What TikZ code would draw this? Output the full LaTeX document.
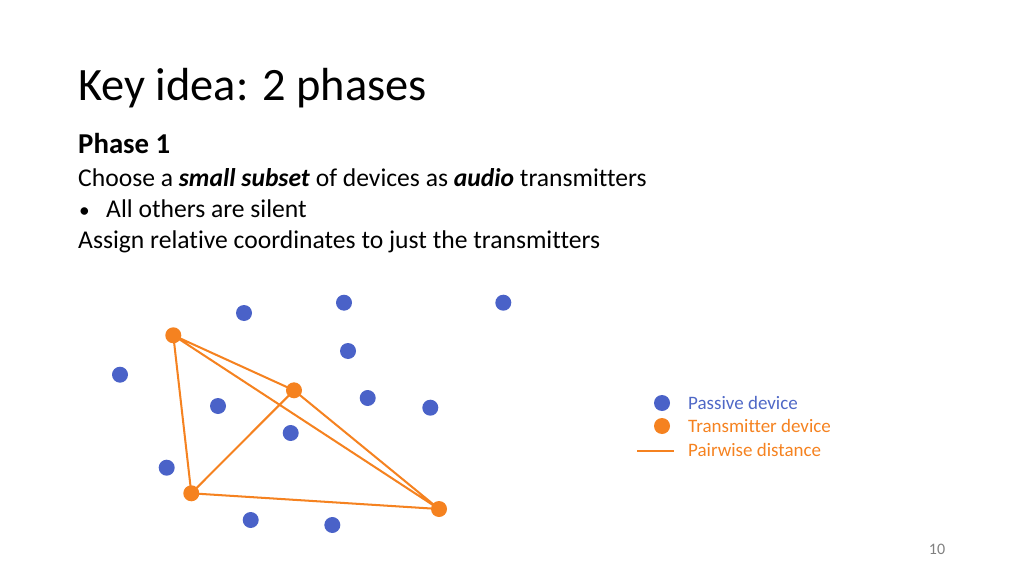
\documentclass[tikz,border=0pt]{standalone}
\usepackage{fontspec}
\setmainfont[Ligatures={NoCommon}]{Carlito}
\definecolor{pblue}{HTML}{4A62C8}
\definecolor{porange}{HTML}{F58220}
\definecolor{ltblue}{HTML}{4F68C6}
\begin{document}
\begin{tikzpicture}[x=0.9375pt,y=-0.9375pt,
  passive/.style={circle,fill=pblue,inner sep=0pt,minimum size=15pt},
  trans/.style={circle,fill=porange,inner sep=0pt,minimum size=15pt},
  dist/.style={draw=porange,line width=1.9pt},
  txt/.style={anchor=base west,inner sep=0pt,font=\fontsize{24}{28}\selectfont},
  leg/.style={anchor=west,inner sep=0pt,font=\fontsize{17.8}{21}\selectfont}]
\useasboundingbox (0,0) rectangle (1024,576);
\node[txt,font=\fontsize{43.5}{50}\selectfont] (title) at (78,101) {Key idea: 2 phases};
\node[txt,font=\fontsize{27}{32}\selectfont\bfseries] (ph) at (78,154) {Phase 1};
\node[txt] (l1) at (78,186) {Choose a \textbf{\textit{small subset}} of devices as \textbf{\textit{audio}} transmitters};
\node[txt,font=\fontsize{20}{24}\selectfont] (bul) at (79,217) {\textbullet};
\node[txt] (l2) at (106,217) {All others are silent};
\node[txt] (l3) at (78,248) {Assign relative coordinates to just the transmitters};
% passive devices
\foreach \n/\x/\y in {p1/244/313, p2/344/302.7, p3/503.3/302.7, p4/348/351, p5/120/374.7, p6/218/406, p7/367.7/398, p8/430.3/407.7, p9/290.7/433, p10/166.7/467.7, p11/250.7/520, p12/332.3/525}
  \node[passive] (\n) at (\x,\y) {};
% transmitters
\node[trans] (A) at (173.3,335.3) {};
\node[trans] (B) at (294,390.3) {};
\node[trans] (C) at (191.3,493.3) {};
\node[trans] (D) at (439,509) {};
\draw[dist] (A.center) -- (B.center) (A.center) -- (C.center) (A.center) -- (D.center)
  (B.center) -- (C.center) (B.center) -- (D.center) (C.center) -- (D.center);
% legend
\node[passive] (lp) at (662,403) {};
\node[trans] (lt) at (662,426) {};
\coordinate (la) at (637,451);
\coordinate (lb) at (674,451);
\draw[dist] (la) -- (lb);
\node[leg,text=ltblue] (tp) at (688,403) {Passive device};
\node[leg,text=porange] (tt) at (688,426) {Transmitter device};
\node[leg,text=porange] (td) at (688,450) {Pairwise distance};
\node[anchor=center,inner sep=0pt,text=gray,font=\fontsize{15}{17}\selectfont] (pg) at (937,549) {10};
\end{tikzpicture}
\end{document}
